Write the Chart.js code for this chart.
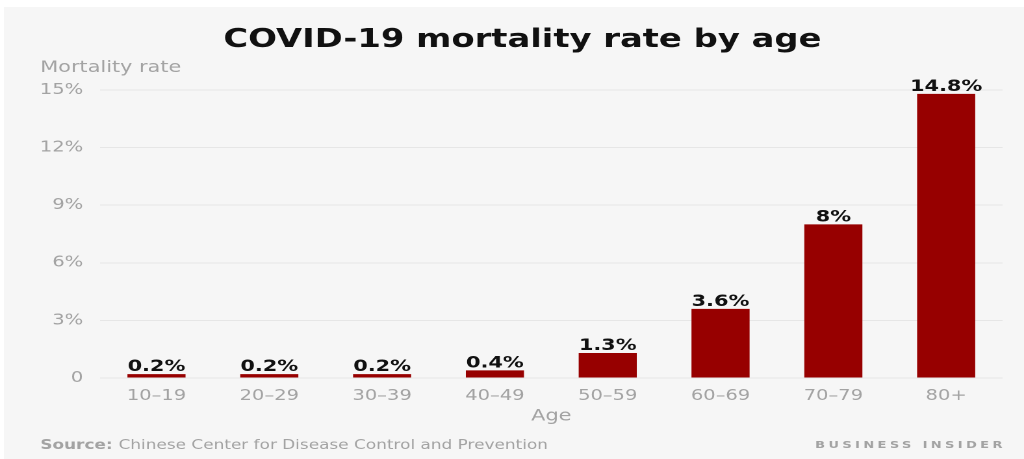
<!DOCTYPE html>
<html>
<head>
<meta charset="utf-8">
<script src="https://cdn.jsdelivr.net/npm/chart.js@4.4.1/dist/chart.umd.min.js"></script>
<style>
  html, body { margin: 0; padding: 0; background: #fff; }
  #chart { display: block; width: 1024px; height: 459px; }
</style>
</head>
<body>
<!-- drawn narrow and stretched to 1024 wide, like the source image -->
<canvas id="chart" width="788" height="459" style="width:1024px;height:459px"></canvas>
<script>
const ageGroups = ['10–19', '20–29', '30–39', '40–49', '50–59', '60–69', '70–79', '80+'];
const mortalityRates = [0.2, 0.2, 0.2, 0.4, 1.3, 3.6, 8, 14.8];
const rateLabels = ['0.2%', '0.2%', '0.2%', '0.4%', '1.3%', '3.6%', '8%', '14.8%'];
const yTicks = [0, 3, 6, 9, 12, 15];

const FONT = '"DejaVu Sans", sans-serif';
const GREY = '#a3a3a3';

// title, subtitle, footer and the grey panel
const chrome = {
    id: 'chrome',
    beforeDraw(chart) {
        const c = chart.ctx;
        c.save();
        c.fillStyle = '#ffffff';
        c.fillRect(0, 0, chart.width, chart.height);
        c.fillStyle = '#f6f6f6';
        c.fillRect(3, 7, chart.width - 3, chart.height - 7);
        c.restore();
    },
    afterDraw(chart) {
        const c = chart.ctx;
        c.save();
        c.fillStyle = '#111111';
        c.font = 'bold 26px ' + FONT;
        c.textAlign = 'center';
        c.textBaseline = 'alphabetic';
        c.fillText('COVID-19 mortality rate by age', 402, 47);

        c.fillStyle = GREY;
        c.font = '16px ' + FONT;
        c.textAlign = 'left';
        c.fillText('Mortality rate', 31, 72);

        c.font = 'bold 13px ' + FONT;
        c.fillText('Source:', 31, 449);
        const w = c.measureText('Source: ').width;
        c.font = '13px ' + FONT;
        c.fillText('Chinese Center for Disease Control and Prevention', 31 + w, 449);

        c.font = 'bold 10px ' + FONT;
        c.letterSpacing = '2.6px';
        c.textAlign = 'right';
        c.fillText('BUSINESS INSIDER', 774, 448);
        c.restore();
    },
    afterDatasetsDraw(chart) {
        const c = chart.ctx;
        c.save();
        c.fillStyle = '#111111';
        c.font = 'bold 16px ' + FONT;
        c.textAlign = 'center';
        c.textBaseline = 'alphabetic';
        chart.getDatasetMeta(0).data.forEach((bar, i) => {
            c.fillText(rateLabels[i], bar.x, bar.y - 3);
        });
        c.restore();
    }
};

new Chart(document.getElementById('chart'), {
    type: 'bar',
    data: {
        labels: ageGroups,
        datasets: [{
            data: mortalityRates,
            backgroundColor: '#970000',
            barPercentage: 0.515,
            categoryPercentage: 1
        }]
    },
    options: {
        responsive: false,
        animation: false,
        devicePixelRatio: 2,
        layout: { padding: { top: 90, right: 16.5, bottom: 31, left: 0 } },
        plugins: {
            legend: { display: false },
            tooltip: { enabled: false }
        },
        scales: {
            x: {
                grid: { display: false, drawTicks: false },
                border: { display: false },
                ticks: { color: GREY, font: { family: FONT, size: 15 }, padding: 9 },
                title: {
                    display: true,
                    text: 'Age',
                    color: GREY,
                    font: { family: FONT, size: 16 },
                    padding: { top: 2, bottom: 2 }
                },
                afterFit(scale) { scale.height = 50; }
            },
            y: {
                min: 0,
                max: 15,
                afterBuildTicks(scale) { scale.ticks = yTicks.map(v => ({ value: v })); },
                grid: { color: '#e6e6e6', drawTicks: false },
                border: { display: false },
                ticks: {
                    color: GREY,
                    font: { family: FONT, size: 15 },
                    padding: 13,
                    callback: v => v === 0 ? '0' : v + '%'
                },
                afterFit(scale) { scale.width = 77; }
            }
        }
    },
    plugins: [chrome]
});
</script>
</body>
</html>
